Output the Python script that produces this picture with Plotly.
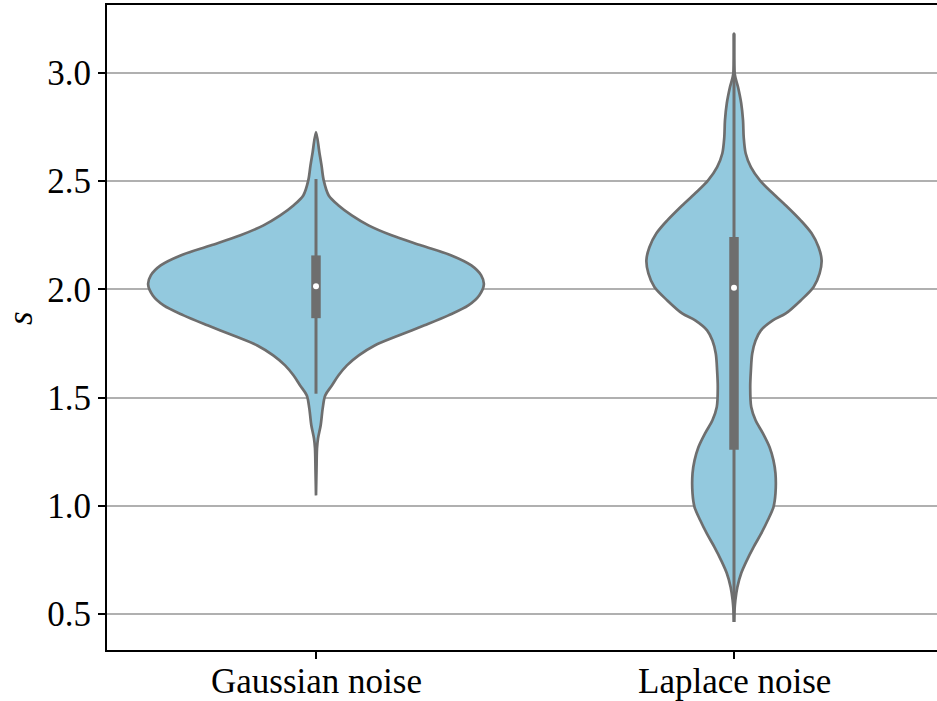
import plotly.graph_objects as go

# ---------------- data ----------------
categories = ["Gaussian noise", "Laplace noise"]

# violin outline profiles: s values and relative density (half-width, max ~ 1)
gauss_s = [2.727, 2.634, 2.573, 2.504, 2.434, 2.388, 2.342, 2.296, 2.250, 2.203,
           2.157, 2.111, 2.065, 2.023, 1.972, 1.926, 1.880, 1.834, 1.787, 1.741,
           1.695, 1.649, 1.603, 1.556, 1.510, 1.450, 1.372, 1.311, 1.265, 1.164, 1.048]
gauss_d = [0.0, 0.020, 0.033, 0.046, 0.076, 0.135, 0.214, 0.314, 0.452, 0.631,
           0.810, 0.929, 0.988, 1.004, 0.976, 0.911, 0.792, 0.649, 0.494, 0.351,
           0.256, 0.185, 0.135, 0.095, 0.055, 0.040, 0.028, 0.012, 0.006, 0.003, 0.0]

laplace_s = [3.182, 2.997, 2.935, 2.860, 2.781, 2.704, 2.628, 2.565, 2.504, 2.444,
             2.380, 2.319, 2.259, 2.195, 2.134, 2.074, 2.011, 1.949, 1.889, 1.857,
             1.811, 1.764, 1.704, 1.626, 1.549, 1.456, 1.395, 1.335, 1.271, 1.210,
             1.150, 1.057, 0.994, 0.933, 0.872, 0.809, 0.748, 0.688, 0.624, 0.563,
             0.516, 0.463]
laplace_d = [0.0, 0.004, 0.024, 0.043, 0.054, 0.058, 0.070, 0.101, 0.155, 0.232,
             0.321, 0.399, 0.464, 0.506, 0.524, 0.512, 0.476, 0.399, 0.310, 0.232,
             0.161, 0.129, 0.109, 0.101, 0.097, 0.103, 0.129, 0.173, 0.213, 0.236,
             0.248, 0.248, 0.236, 0.202, 0.163, 0.117, 0.077, 0.043, 0.020, 0.008,
             0.003, 0.0]

# box statistics: [whisker_low, q1, median, q3, whisker_high]
gauss_box = [1.518, 1.867, 2.015, 2.157, 2.510]
laplace_box = [0.463, 1.259, 2.008, 2.242, 3.182]

y_ticks = [0.5, 1.0, 1.5, 2.0, 2.5, 3.0]

# ---------------- styling ----------------
FILL = "#93c9de"
EDGE = "#6e6e6e"
HALF_WIDTH = 0.4  # seaborn default width 0.8
FONT = "Liberation Serif"
FSIZE = 35

fig = go.Figure()

profiles = [(gauss_s, gauss_d, gauss_box), (laplace_s, laplace_d, laplace_box)]
for i, (s, d, box) in enumerate(profiles):
    xs = [i - HALF_WIDTH * v for v in d] + [i + HALF_WIDTH * v for v in d[::-1]]
    ys = list(s) + list(s[::-1])
    fig.add_trace(go.Scatter(x=xs, y=ys, mode="lines", fill="toself",
                             fillcolor=FILL,
                             line=dict(color=EDGE, width=2.7, shape="spline",
                                       smoothing=0.9),
                             hoverinfo="skip", showlegend=False))
    # whisker
    fig.add_trace(go.Scatter(x=[i, i], y=[box[0], box[4]], mode="lines",
                             line=dict(color=EDGE, width=3), showlegend=False,
                             hoverinfo="skip"))
    # box
    fig.add_trace(go.Scatter(x=[i, i], y=[box[1], box[3]], mode="lines",
                             line=dict(color=EDGE, width=9.5), showlegend=False,
                             hoverinfo="skip"))
    # median
    fig.add_trace(go.Scatter(x=[i], y=[box[2]], mode="markers",
                             marker=dict(color="white", size=6, line=dict(width=0)),
                             showlegend=False, hoverinfo="skip"))

# pixel geometry of the reference: category centres at 316 and 734 px
left_px, right_px = 107, 937
top_px, bottom_px = 5, 650
c0, unit = 316, 418
x_range = [(left_px - c0) / unit, (right_px - c0) / unit]
plot_h = bottom_px - top_px

# category labels as annotations (tick labels would be clipped at the bottom)
annotations = [dict(text=cat, xref="x", yref="paper", x=i,
                    y=(bottom_px - 681) / plot_h, xanchor="center",
                    yanchor="middle", showarrow=False,
                    font=dict(family=FONT, size=FSIZE, color="black"))
               for i, cat in enumerate(categories)]
annotations.append(dict(text="<i>s</i>", xref="paper", yref="paper",
                        x=(21 - left_px) / (right_px - left_px),
                        y=(bottom_px - 318) / plot_h,
                        xanchor="center", yanchor="middle", textangle=-90,
                        showarrow=False,
                        font=dict(family=FONT, size=FSIZE, color="black")))

fig.update_layout(
    width=937, height=701,
    margin=dict(l=left_px, r=0, t=top_px, b=701 - bottom_px),
    plot_bgcolor="white", paper_bgcolor="white",
    font=dict(family=FONT, size=FSIZE, color="black"),
    xaxis=dict(range=x_range, tickvals=[0, 1], ticktext=["", ""],
               showgrid=False, zeroline=False, showline=True, linecolor="black",
               linewidth=2, mirror=True, ticks="outside", ticklen=7, tickwidth=2,
               tickcolor="black", automargin=False),
    yaxis=dict(range=[0.3336, 3.3142], tickvals=y_ticks,
               ticktext=[f"{v:.1f}" for v in y_ticks],
               showgrid=True, gridcolor="#b0b0b0", gridwidth=1.6, zeroline=False,
               showline=True, linecolor="black", linewidth=2, ticks="outside",
               ticklen=7, tickwidth=2, tickcolor="black",
               tickfont=dict(family=FONT, size=FSIZE), automargin=False),
    annotations=annotations,
)

fig.write_html("out.html")
